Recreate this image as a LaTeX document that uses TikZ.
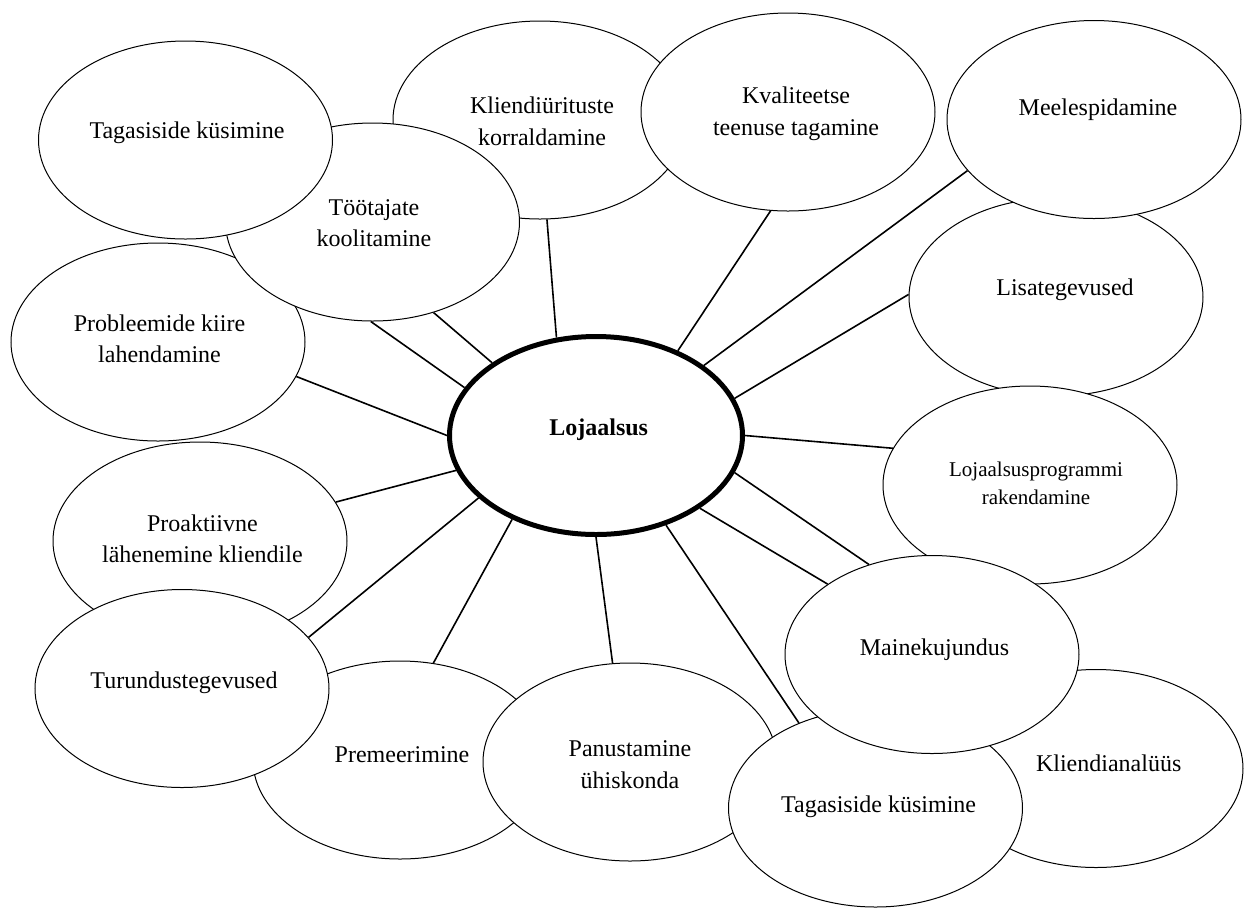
\documentclass[tikz,border=0pt]{standalone}
\usepackage{fontspec}
\setmainfont{Liberation Serif}
\usetikzlibrary{shapes.geometric}
\pgfdeclarelayer{background}
\pgfsetlayers{background,main}
\begin{document}
\begin{tikzpicture}[x=0.5pt,y=-0.5pt,
  bub/.style={ellipse,draw=black,line width=0.5pt,fill=white,minimum width=147pt,minimum height=99pt,inner sep=0pt},
  hub/.style={ellipse,draw=black,line width=2.5pt,fill=white,minimum width=146.5pt,minimum height=99pt,inner sep=0pt},
  txt/.style={align=center,font=\fontsize{12}{15.75}\selectfont,inner sep=0pt},
  link/.style={line width=0.8pt}]
\useasboundingbox (0,0) rectangle (1244,907);
% ellipses, bottom to top
\node[bub] (kli) at (540,120) {};
\node[bub] (kva) at (788,112) {};
\node[bub] (pro) at (158,342) {};
\node[bub] (too) at (372.5,222) {};
\node[bub] (tagtl) at (185.5,140) {};
\node[bub] (lis) at (1056,297) {};
\node[bub] (mee) at (1094,119.5) {};
\node[bub] (loj) at (1030,485) {};
\node[bub] (kan) at (1096,768.5) {};
\node[bub] (pre) at (400,760) {};
\node[bub] (pan) at (630,762) {};
\node[bub] (tagb) at (875.5,808) {};
\node[bub] (mai) at (932,654.5) {};
\node[bub] (pra) at (200,541) {};
\node[bub] (tur) at (182,688.5) {};
\node[hub] (c) at (596,435.5) {};
% texts
\node[txt] (tagtlt) at (187,133) {Tagasiside küsimine};
\node[txt] (klit) at (542,121.5) {Kliendiürituste\\korraldamine};
\node[txt] (kvat) at (796,114) {Kvaliteetse\\teenuse tagamine};
\node[txt] (meet) at (1098,110) {Meelespidamine};
\node[txt] (toot) at (374,223) {Töötajate\\koolitamine};
\node[txt] (list) at (1065,290) {Lisategevused};
\node[txt] (prot) at (159.5,339) {Probleemide kiire\\lahendamine};
\node[txt,font=\fontsize{10.5}{13.8}\selectfont] (lojt) at (1036,483.5) {Lojaalsusprogrammi\\rakendamine};
\node[txt] (prat) at (202.4,539) {Proaktiivne\\lähenemine kliendile};
\node[txt] (turt) at (184,683) {Turundustegevused};
\node[txt] (pret) at (402,754.7) {Premeerimine};
\node[txt] (pant) at (630,764.5) {Panustamine\\ühiskonda};
\node[txt] (mait) at (934.5,649.7) {Mainekujundus};
\node[txt] (kant) at (1108.7,763) {Kliendianalüüs};
\node[txt] (tagbt) at (878.6,807) {Tagasiside küsimine};
\node[txt,font=\fontsize{12}{14}\selectfont\bfseries] (ct) at (598.7,430) {Lojaalsus};
% connectors
\begin{pgfonlayer}{background}
\draw[link] (c.112.5) -- (kli.274.7);
\draw[link] (c.145.6) -- (too.304.3);
\draw[link] (c.160.6) -- (too.269.7);
\draw[link] (c.180) -- (pro.346.5);
\draw[link] (c.194.4) -- (pra.16.2);
\draw[link] (c.208.2) -- (tur.22.1);
\draw[link] (c.225.8) -- (pre.71.7);
\draw[link] (c.270.4) -- (pan.100.7);
\draw[link] (c.308.2) -- (tagb.132.5);
\draw[link] (c.325.9) -- (mai.146.3);
\draw[link] (c.345.6) -- (mai.125.7);
\draw[link] (c.0) -- (loj.165);
\draw[link] (c.15.6) -- (lis.179.6);
\draw[link] (c.33.9) -- (mee.202.5);
\draw[link] (c.46.3) -- (kva.260.8);
\end{pgfonlayer}
\end{tikzpicture}
\end{document}
